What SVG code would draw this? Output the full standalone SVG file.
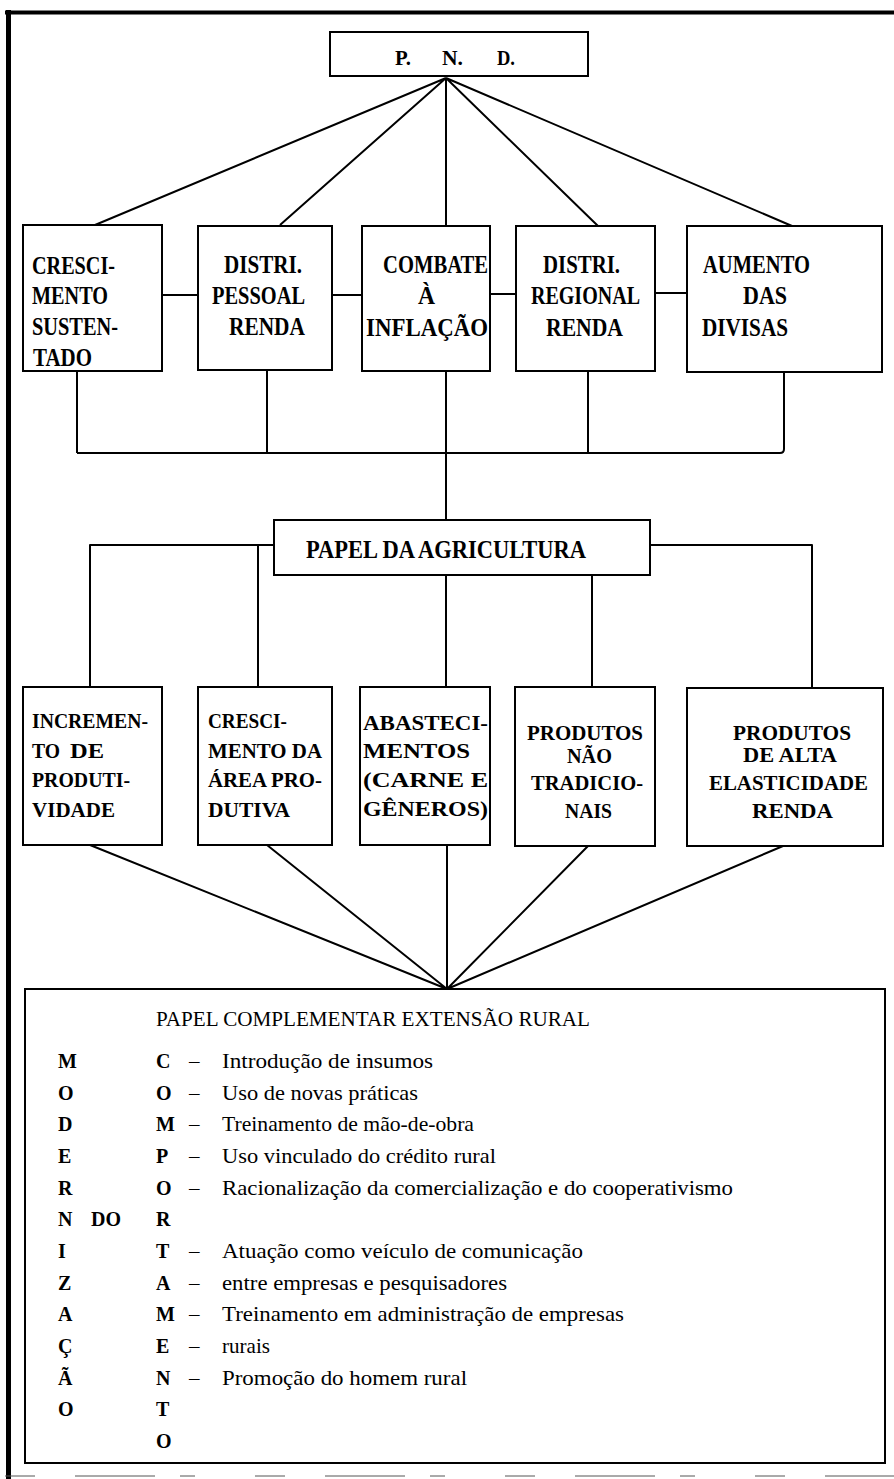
<svg xmlns="http://www.w3.org/2000/svg" width="894" height="1479" viewBox="0 0 894 1479">
<style>
.box{fill:#fff;stroke:#000;stroke-width:2}
.c{stroke:#000;stroke-width:2;fill:none;stroke-linejoin:round}
text{font-family:"Liberation Serif","DejaVu Serif",serif;fill:#000}
.b1{font-weight:bold;font-size:25px}
.b2{font-weight:bold;font-size:21px}
.b3{font-weight:bold;font-size:22px}
.r{font-size:21px}
.lb{font-weight:bold;font-size:20px}
</style>
<rect width="894" height="1479" fill="#fff"/>
<g id="frame">
<line x1="5" y1="12.5" x2="894" y2="12.5" stroke="#000" stroke-width="4"/>
<line x1="8.5" y1="10" x2="8.5" y2="1479" stroke="#000" stroke-width="5"/>
<line x1="5" y1="1476" x2="894" y2="1476" stroke="#555" stroke-width="1" stroke-dasharray="30 40 80 25 15 60"/>
</g>
<g id="connectors">
<path class="c" d="M446,78 L95,225 M446,78 L280,225 M446,78 L446,226 M446,78 L598,226 M446,78 L792,226"/>
<path class="c" d="M162,295 H198 M332,295 H362 M490,294 H516 M655,293 H687"/>
<path class="c" d="M77,371 V453 M267,370 V453 M446,371 V453 M588,371 V453 M784,372 V449 Q784,453 780,453 H77"/>
<path class="c" d="M446,453 V520"/>
<path class="c" d="M274,545 H90 V687 M258,545 V687 M446,575 V687 M592,575 V687 M650,545 H812 V687"/>
<path class="c" d="M90,845 L447,989 M267,845 L447,989 M447,845 L447,989 M588,846 L447,989 M783,846 L447,989"/>
</g>
<g id="pnd">
<rect class="box" x="330" y="32" width="258" height="44"/>
<text class="b3" x="395" y="65" textLength="16" lengthAdjust="spacingAndGlyphs">P.</text>
<text class="b3" x="442" y="65" textLength="21" lengthAdjust="spacingAndGlyphs">N.</text>
<text class="b3" x="497" y="65" textLength="18" lengthAdjust="spacingAndGlyphs">D.</text>
</g>
<g id="crescimento-sustentado">
<rect class="box" x="23" y="225" width="139" height="146"/>
<text class="b1" x="32" y="274" textLength="83" lengthAdjust="spacingAndGlyphs">CRESCI-</text>
<text class="b1" x="32" y="304" textLength="76" lengthAdjust="spacingAndGlyphs">MENTO</text>
<text class="b1" x="32" y="335" textLength="86" lengthAdjust="spacingAndGlyphs">SUSTEN-</text>
<text class="b1" x="33" y="366" textLength="59" lengthAdjust="spacingAndGlyphs">TADO</text>
</g>
<g id="distri-pessoal">
<rect class="box" x="198" y="226" width="134" height="144"/>
<text class="b1" x="224" y="273" textLength="78" lengthAdjust="spacingAndGlyphs">DISTRI.</text>
<text class="b1" x="212" y="304" textLength="93" lengthAdjust="spacingAndGlyphs">PESSOAL</text>
<text class="b1" x="229" y="335" textLength="76" lengthAdjust="spacingAndGlyphs">RENDA</text>
</g>
<g id="combate-inflacao">
<rect class="box" x="362" y="226" width="128" height="145"/>
<text class="b1" x="383" y="273" textLength="105" lengthAdjust="spacingAndGlyphs">COMBATE</text>
<text class="b1" x="418" y="304" textLength="17" lengthAdjust="spacingAndGlyphs">À</text>
<text class="b1" x="366" y="336" textLength="122" lengthAdjust="spacingAndGlyphs">INFLAÇÃO</text>
</g>
<g id="distri-regional">
<rect class="box" x="516" y="226" width="139" height="145"/>
<text class="b1" x="543" y="273" textLength="77" lengthAdjust="spacingAndGlyphs">DISTRI.</text>
<text class="b1" x="531" y="304" textLength="109" lengthAdjust="spacingAndGlyphs">REGIONAL</text>
<text class="b1" x="546" y="336" textLength="77" lengthAdjust="spacingAndGlyphs">RENDA</text>
</g>
<g id="aumento-divisas">
<rect class="box" x="687" y="226" width="195" height="146"/>
<text class="b1" x="703" y="273" textLength="107" lengthAdjust="spacingAndGlyphs">AUMENTO</text>
<text class="b1" x="743" y="304" textLength="44" lengthAdjust="spacingAndGlyphs">DAS</text>
<text class="b1" x="702" y="336" textLength="86" lengthAdjust="spacingAndGlyphs">DIVISAS</text>
</g>
<g id="papel-agricultura">
<rect class="box" x="274" y="520" width="376" height="55"/>
<text class="b1" x="306" y="558" textLength="280" lengthAdjust="spacingAndGlyphs">PAPEL DA AGRICULTURA</text>
</g>
<g id="incremento-produtividade">
<rect class="box" x="23" y="687" width="139" height="158"/>
<text class="b2" x="32" y="728" textLength="116" lengthAdjust="spacingAndGlyphs">INCREMEN-</text>
<text class="b2" x="32" y="758" textLength="28" lengthAdjust="spacingAndGlyphs">TO</text>
<text class="b2" x="70" y="758" textLength="34" lengthAdjust="spacingAndGlyphs">DE</text>
<text class="b2" x="32" y="787" textLength="98" lengthAdjust="spacingAndGlyphs">PRODUTI-</text>
<text class="b2" x="32" y="817" textLength="83" lengthAdjust="spacingAndGlyphs">VIDADE</text>
</g>
<g id="crescimento-area">
<rect class="box" x="198" y="687" width="134" height="158"/>
<text class="b2" x="208" y="728" textLength="79" lengthAdjust="spacingAndGlyphs">CRESCI-</text>
<text class="b2" x="208" y="758" textLength="114" lengthAdjust="spacingAndGlyphs">MENTO DA</text>
<text class="b2" x="208" y="787" textLength="114" lengthAdjust="spacingAndGlyphs">ÁREA PRO-</text>
<text class="b2" x="208" y="817" textLength="82" lengthAdjust="spacingAndGlyphs">DUTIVA</text>
</g>
<g id="abastecimentos">
<rect class="box" x="360" y="687" width="130" height="158"/>
<text class="b2" x="363" y="730" textLength="125" lengthAdjust="spacingAndGlyphs">ABASTECI-</text>
<text class="b2" x="363" y="758" textLength="107" lengthAdjust="spacingAndGlyphs">MENTOS</text>
<text class="b2" x="363" y="787" textLength="125" lengthAdjust="spacingAndGlyphs">(CARNE E</text>
<text class="b2" x="363" y="816" textLength="125" lengthAdjust="spacingAndGlyphs">GÊNEROS)</text>
</g>
<g id="produtos-nao-tradicionais">
<rect class="box" x="515" y="687" width="140" height="159"/>
<text class="b2" x="527" y="740" textLength="116" lengthAdjust="spacingAndGlyphs">PRODUTOS</text>
<text class="b2" x="567" y="763" textLength="45" lengthAdjust="spacingAndGlyphs">NÃO</text>
<text class="b2" x="531" y="790" textLength="112" lengthAdjust="spacingAndGlyphs">TRADICIO-</text>
<text class="b2" x="565" y="818" textLength="47" lengthAdjust="spacingAndGlyphs">NAIS</text>
</g>
<g id="produtos-alta-elasticidade">
<rect class="box" x="687" y="688" width="196" height="158"/>
<text class="b2" x="733" y="740" textLength="118" lengthAdjust="spacingAndGlyphs">PRODUTOS</text>
<text class="b2" x="743" y="762" textLength="94" lengthAdjust="spacingAndGlyphs">DE ALTA</text>
<text class="b2" x="709" y="790" textLength="159" lengthAdjust="spacingAndGlyphs">ELASTICIDADE</text>
<text class="b2" x="752" y="818" textLength="81" lengthAdjust="spacingAndGlyphs">RENDA</text>
</g>
<g id="papel-complementar">
<rect class="box" x="25" y="989" width="860" height="474"/>
<text class="r" x="156" y="1026" textLength="434" lengthAdjust="spacingAndGlyphs">PAPEL COMPLEMENTAR EXTENSÃO RURAL</text>
<g class="lb">
<text x="58" y="1068">M</text>
<text x="58" y="1099.7">O</text>
<text x="58" y="1131.3">D</text>
<text x="58" y="1163">E</text>
<text x="58" y="1194.7">R</text>
<text x="58" y="1226.3">N</text>
<text x="91" y="1226.3">DO</text>
<text x="58" y="1258">I</text>
<text x="58" y="1289.7">Z</text>
<text x="58" y="1321.3">A</text>
<text x="58" y="1353">Ç</text>
<text x="58" y="1384.7">Ã</text>
<text x="58" y="1416.3">O</text>
<text x="156" y="1068">C</text>
<text x="156" y="1099.7">O</text>
<text x="156" y="1131.3">M</text>
<text x="156" y="1163">P</text>
<text x="156" y="1194.7">O</text>
<text x="156" y="1226.3">R</text>
<text x="156" y="1258">T</text>
<text x="156" y="1289.7">A</text>
<text x="156" y="1321.3">M</text>
<text x="156" y="1353">E</text>
<text x="156" y="1384.7">N</text>
<text x="156" y="1416.3">T</text>
<text x="156" y="1448">O</text>
</g>
<g class="r">
<text x="189" y="1068">–</text>
<text x="189" y="1099.7">–</text>
<text x="189" y="1131.3">–</text>
<text x="189" y="1163">–</text>
<text x="189" y="1194.7">–</text>
<text x="189" y="1258">–</text>
<text x="189" y="1289.7">–</text>
<text x="189" y="1321.3">–</text>
<text x="189" y="1353">–</text>
<text x="189" y="1384.7">–</text>
<text x="222" y="1068" textLength="211" lengthAdjust="spacingAndGlyphs">Introdução de insumos</text>
<text x="222" y="1099.7" textLength="196" lengthAdjust="spacingAndGlyphs">Uso de novas práticas</text>
<text x="222" y="1131.3" textLength="252" lengthAdjust="spacingAndGlyphs">Treinamento de mão-de-obra</text>
<text x="222" y="1163" textLength="274" lengthAdjust="spacingAndGlyphs">Uso vinculado do crédito rural</text>
<text x="222" y="1194.7" textLength="511" lengthAdjust="spacingAndGlyphs">Racionalização da comercialização e do cooperativismo</text>
<text x="222" y="1258" textLength="361" lengthAdjust="spacingAndGlyphs">Atuação como veículo de comunicação</text>
<text x="222" y="1289.7" textLength="285" lengthAdjust="spacingAndGlyphs">entre empresas e pesquisadores</text>
<text x="222" y="1321.3" textLength="402" lengthAdjust="spacingAndGlyphs">Treinamento em administração de empresas</text>
<text x="222" y="1353" textLength="48" lengthAdjust="spacingAndGlyphs">rurais</text>
<text x="222" y="1384.7" textLength="245" lengthAdjust="spacingAndGlyphs">Promoção do homem rural</text>
</g>
</g>
</svg>
